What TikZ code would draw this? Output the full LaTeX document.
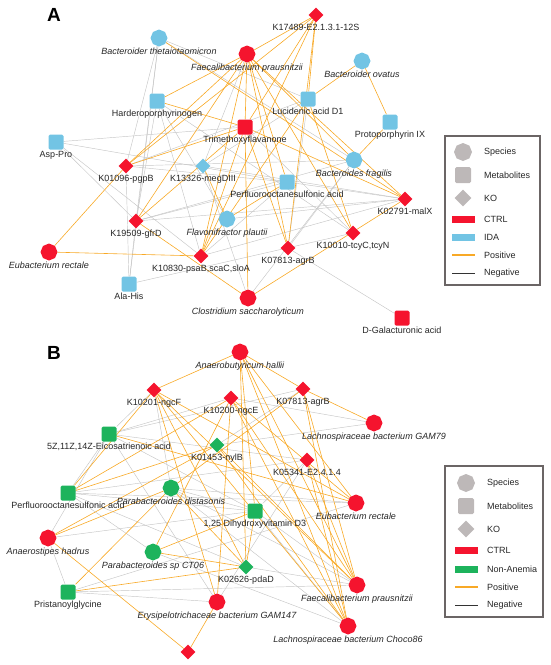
\documentclass[tikz,border=0pt]{standalone}
\usepackage{fontspec}
\setmainfont{Liberation Sans}
\usetikzlibrary{shapes.geometric, backgrounds}
\definecolor{ctrlred}{HTML}{F5142E}
\definecolor{idablue}{HTML}{72C4E4}
\definecolor{nagreen}{HTML}{1DB35C}
\definecolor{posorange}{HTML}{F8A926}
\definecolor{neggrey}{HTML}{C6C6C6}
\definecolor{legendgrey}{HTML}{BDB8B8}
\definecolor{framegrey}{HTML}{6B6565}
\tikzset{
    species/.style={regular polygon, regular polygon sides=8, shape border rotate=22.5, minimum size=17pt, inner sep=0pt},
    metab/.style={rectangle, rounded corners=1.5pt, minimum size=15pt, inner sep=0pt},
    ko/.style={diamond, minimum size=15pt, inner sep=0pt},
    lbl/.style={font=\fontsize{9}{10}\selectfont, text=black!85, inner sep=1pt, label distance=0.5pt},
    lbli/.style={lbl, font=\fontsize{9}{10}\selectfont\itshape},
    panel/.style={font=\fontsize{19}{20}\selectfont\bfseries, inner sep=0pt},
    legendbox/.style={draw=framegrey, line width=1.1pt, inner sep=0pt},
    legendtext/.style={anchor=west, font=\fontsize{9}{10}\selectfont, text=black!85, inner sep=0pt},
    posedge/.style={draw=posorange, line width=0.6pt},
    negedge/.style={draw=neggrey, line width=0.45pt},
}
\begin{document}
\begin{tikzpicture}[x=1pt, y=-1pt]
    \useasboundingbox (0,0) rectangle (550,665);
    % panel A
    \node[panel] (tagA) at (54,15) {A};
    \node[ko, fill=ctrlred, label={[lbl]below:K17489-E2.1.3.1-12S}] (aK17489) at (316,15) {};
    \node[species, fill=idablue, label={[lbli]below:Bacteroider thetaiotaomicron}] (aBthe) at (159,38) {};
    \node[species, fill=ctrlred, label={[lbli]below:Faecalibacterium prausnitzii}] (aFpra) at (247,54) {};
    \node[species, fill=idablue, label={[lbli]below:Bacteroider ovatus}] (aBova) at (362,61) {};
    \node[metab, fill=idablue, label={[lbl]below:Harderoporphyrinogen}] (aHard) at (157,101) {};
    \node[metab, fill=idablue, label={[lbl]below:Lucidenic acid D1}] (aLuci) at (308,99) {};
    \node[metab, fill=idablue, label={[lbl]below:Protoporphyrin IX}] (aProt) at (390,122) {};
    \node[metab, fill=ctrlred, label={[lbl]below:Trimethoxyflavanone}] (aTrim) at (245,127) {};
    \node[metab, fill=idablue, label={[lbl]below:Asp-Pro}] (aAsp) at (56,142) {};
    \node[ko, fill=ctrlred, label={[lbl]below:K01096-pgpB}] (aK01096) at (126,166) {};
    \node[ko, fill=idablue, label={[lbl]below:K13326-megDIII}] (aK13326) at (203,166) {};
    \node[species, fill=idablue, label={[lbli]below:Bacteroides fragilis}] (aBfra) at (354,160) {};
    \node[metab, fill=idablue, label={[lbl]below:Perfluorooctanesulfonic acid}] (aPfos) at (287,182) {};
    \node[ko, fill=ctrlred, label={[lbl]below:K02791-malX}] (aK02791) at (405,199) {};
    \node[ko, fill=ctrlred, label={[lbl]below:K19509-gfrD}] (aK19509) at (136,221) {};
    \node[species, fill=idablue, label={[lbli]below:Flavonifractor plautii}] (aFpla) at (227,219) {};
    \node[ko, fill=ctrlred, label={[lbl]below:{K10010-tcyC,tcyN}}] (aK10010) at (353,233) {};
    \node[species, fill=ctrlred, label={[lbli]below:Eubacterium rectale}] (aErec) at (49,252) {};
    \node[ko, fill=ctrlred, label={[lbl]below:K07813-agrB}] (aK07813) at (288,248) {};
    \node[ko, fill=ctrlred, label={[lbl]below:{K10830-psaB,scaC,sloA}}] (aK10830) at (201,256) {};
    \node[metab, fill=idablue, label={[lbl]below:Ala-His}] (aAla) at (129,284) {};
    \node[species, fill=ctrlred, label={[lbli]below:Clostridium saccharolyticum}] (aCsac) at (248,298) {};
    \node[metab, fill=ctrlred, label={[lbl]below:D-Galacturonic acid}] (aDgal) at (402,318) {};
    % legend A
    \node[legendbox, minimum width=95pt, minimum height=149pt] (legA) at (492.5,210.5) {};
    \node[species, fill=legendgrey, minimum size=18pt] (legAsp) at (463,152) {};
    \node[legendtext] at (484,152) {Species};
    \node[metab, fill=legendgrey, minimum size=16pt] (legAme) at (463,175) {};
    \node[legendtext] at (484,175) {Metabolites};
    \node[ko, fill=legendgrey, minimum size=17pt] (legAko) at (463,198) {};
    \node[legendtext] at (484,198) {KO};
    \node[fill=ctrlred, minimum width=23pt, minimum height=7pt, inner sep=0pt] (legActrl) at (463,219) {};
    \node[legendtext] at (484,219) {CTRL};
    \node[fill=idablue, minimum width=23pt, minimum height=7pt, inner sep=0pt] (legAida) at (463,237) {};
    \node[legendtext] at (484,237) {IDA};
    \coordinate (legAp1) at (452,255); \coordinate (legAp2) at (475,255);
    \draw[posorange, line width=1.3pt] (legAp1) -- (legAp2);
    \node[legendtext] at (484,255) {Positive};
    \coordinate (legAn1) at (452,273); \coordinate (legAn2) at (475,273);
    \draw[black!80, line width=1pt] (legAn1) -- (legAn2);
    \node[legendtext] at (484,273) {Negative};
    % panel B
    \node[panel] (tagB) at (54,353) {B};
    \node[species, fill=ctrlred, label={[lbli]below:Anaerobutyricum hallii}] (bAhal) at (240,352) {};
    \node[ko, fill=ctrlred, label={[lbl]below:K10201-ngcF}] (bK10201) at (154,390) {};
    \node[ko, fill=ctrlred, label={[lbl]below:K10200-ngcE}] (bK10200) at (231,398) {};
    \node[ko, fill=ctrlred, label={[lbl]below:K07813-agrB}] (bK07813) at (303,389) {};
    \node[species, fill=ctrlred, label={[lbli]below:Lachnospiraceae bacterium GAM79}] (bGam79) at (374,423) {};
    \node[metab, fill=nagreen, label={[lbl]below:{5Z,11Z,14Z-Eicosatrienoic acid}}] (bEico) at (109,434) {};
    \node[ko, fill=nagreen, label={[lbl]below:K01453-nylB}] (bK01453) at (217,445) {};
    \node[ko, fill=ctrlred, label={[lbl]below:K05341-E2.4.1.4}] (bK05341) at (307,460) {};
    \node[species, fill=nagreen, label={[lbli]below:Parabacteroides distasonis}] (bPdis) at (171,488) {};
    \node[metab, fill=nagreen, label={[lbl]below:Perfluorooctanesulfonic acid}] (bPfos) at (68,493) {};
    \node[metab, fill=nagreen, label={[lbl]below:{1,25 Dihydroxyvitamin D3}}] (bDvit) at (255,511) {};
    \node[species, fill=ctrlred, label={[lbli]below:Eubacterium rectale}] (bErec) at (356,503) {};
    \node[species, fill=ctrlred, label={[lbli]below:Anaerostipes hadrus}] (bAhad) at (48,538) {};
    \node[species, fill=nagreen, label={[lbli]below:Parabacteroides sp CT06}] (bPct06) at (153,552) {};
    \node[ko, fill=nagreen, label={[lbl]below:K02626-pdaD}] (bK02626) at (246,567) {};
    \node[metab, fill=nagreen, label={[lbl]below:Pristanoylglycine}] (bPris) at (68,592) {};
    \node[species, fill=ctrlred, label={[lbli]below:Faecalibacterium prausnitzii}] (bFpra) at (357,585) {};
    \node[species, fill=ctrlred, label={[lbli]below:Erysipelotrichaceae bacterium GAM147}] (bGam147) at (217,602) {};
    \node[species, fill=ctrlred, label={[lbli]below:Lachnospiraceae bacterium Choco86}] (bChoco) at (348,626) {};
    \node[ko, fill=ctrlred] (bKx) at (188,652) {};
    % legend B
    \node[legendbox, minimum width=98pt, minimum height=151pt] (legB) at (494,541.5) {};
    \node[species, fill=legendgrey, minimum size=18pt] (legBsp) at (466,483) {};
    \node[legendtext] at (487,483) {Species};
    \node[metab, fill=legendgrey, minimum size=16pt] (legBme) at (466,506) {};
    \node[legendtext] at (487,506) {Metabolites};
    \node[ko, fill=legendgrey, minimum size=17pt] (legBko) at (466,529) {};
    \node[legendtext] at (487,529) {KO};
    \node[fill=ctrlred, minimum width=23pt, minimum height=7pt, inner sep=0pt] (legBctrl) at (466,550) {};
    \node[legendtext] at (487,550) {CTRL};
    \node[fill=nagreen, minimum width=23pt, minimum height=7pt, inner sep=0pt] (legBna) at (466,569) {};
    \node[legendtext] at (487,569) {Non-Anemia};
    \coordinate (legBp1) at (455,587); \coordinate (legBp2) at (478,587);
    \draw[posorange, line width=1.3pt] (legBp1) -- (legBp2);
    \node[legendtext] at (487,587) {Positive};
    \coordinate (legBn1) at (455,605); \coordinate (legBn2) at (478,605);
    \draw[black!80, line width=1pt] (legBn1) -- (legBn2);
    \node[legendtext] at (487,605) {Negative};
    % edges
    \begin{scope}[on background layer]
        \foreach \u/\v in {aAsp/aK19509, aAsp/aPfos, aAsp/aK10830, aBthe/aK01096, aBthe/aK19509, aBthe/aLuci, aBthe/aBfra,
            aBthe/aAla, aHard/aK10830, aHard/aK10010, aHard/aFpla, aHard/aK19509, aK01096/aAla, aK19509/aAla, aAla/aK10010,
            aK19509/aPfos, aK19509/aBfra, aK01096/aBfra, aK13326/aLuci, aK13326/aK02791, aK07813/aDgal, aPfos/aK02791,
            aFpla/aK02791, aCsac/aBfra, aTrim/aK10010, aK10830/aK02791, aK13326/aCsac, aLuci/aK01096, aTrim/aAsp,
            aK01096/aPfos, aFpra/aK13326, aLuci/aK07813, aBfra/aK07813, aPfos/aK10830, aK19509/aK02791}
            \draw[negedge] (\u) -- (\v);
        \foreach \u/\v in {aFpra/aHard, aFpra/aTrim, aFpra/aK01096, aFpra/aK19509, aFpra/aK10830, aFpra/aK07813,
            aFpra/aK02791, aFpra/aPfos, aFpra/aK10010, aFpra/aBfra, aBthe/aK02791, aK17489/aFpra, aK17489/aTrim,
            aK17489/aK10830, aK17489/aK07813, aK17489/aLuci, aK17489/aK01096, aBova/aLuci, aBova/aProt, aProt/aBfra,
            aHard/aTrim, aTrim/aK01096, aTrim/aK02791, aTrim/aCsac, aTrim/aK10830, aTrim/aK07813, aTrim/aK19509,
            aErec/aK01096, aErec/aK10830, aK19509/aCsac, aK02791/aCsac, aLuci/aK10830, aPfos/aFpla, aK13326/aFpla,
            aLuci/aK10010}
            \draw[posedge] (\u) -- (\v);
        \foreach \u/\v in {bEico/bK10201, bEico/bPfos, bEico/bAhad, bEico/bDvit, bEico/bK05341, bEico/bGam147,
            bEico/bK10200, bEico/bK07813, bPfos/bDvit, bPfos/bErec, bPfos/bK05341, bPfos/bPct06, bPfos/bK02626,
            bPris/bGam147, bPris/bAhad, bPris/bErec, bPris/bFpra, bDvit/bFpra, bDvit/bChoco, bK02626/bFpra,
            bPct06/bChoco, bPdis/bFpra, bPdis/bErec, bK01453/bK07813, bK10201/bPdis, bPdis/bDvit, bGam147/bK05341,
            bAhad/bDvit, bPdis/bChoco, bK01453/bGam79, bK10200/bGam79, bDvit/bK05341}
            \draw[negedge] (\u) -- (\v);
        \foreach \u/\v in {bAhal/bK10201, bAhal/bK07813, bAhal/bK02626, bAhal/bFpra, bAhal/bChoco, bAhal/bErec,
            bAhal/bDvit, bK10201/bPfos, bK10201/bErec, bK10201/bK02626, bK10201/bGam147, bK10201/bFpra,
            bK10201/bChoco, bK10200/bPfos, bK10200/bFpra, bK10200/bChoco, bK10200/bGam147, bK10200/bErec,
            bK07813/bGam79, bK07813/bPdis, bK07813/bFpra, bK07813/bChoco, bK05341/bFpra, bK05341/bChoco,
            bK01453/bPfos, bK01453/bAhad, bK01453/bFpra, bK01453/bChoco, bPris/bK02626, bPris/bPdis,
            bPct06/bK02626, bPct06/bDvit, bPct06/bK10200, bAhad/bKx, bGam147/bKx, bAhad/bPdis, bPdis/bK02626,
            bEico/bErec, bDvit/bK02626}
            \draw[posedge] (\u) -- (\v);
    \end{scope}
\end{tikzpicture}
\end{document}
